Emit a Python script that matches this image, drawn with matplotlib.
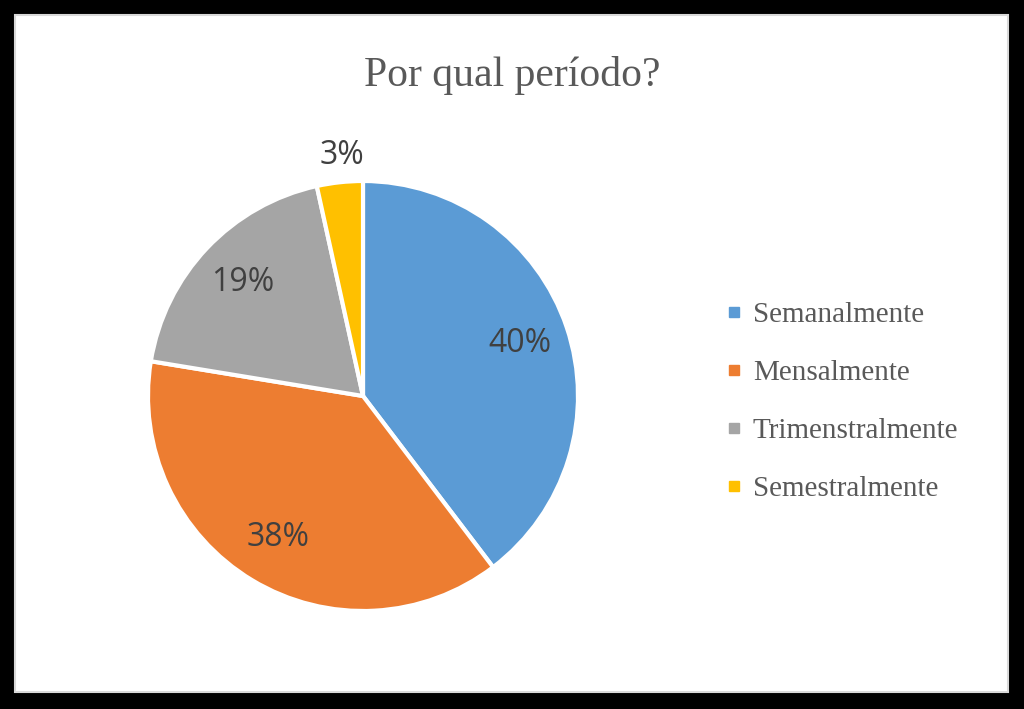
import matplotlib.pyplot as plt
from matplotlib.patches import Rectangle
from matplotlib.lines import Line2D

# dados
categorias = ['Semanalmente', 'Mensalmente', 'Trimenstralmente', 'Semestralmente']
respostas = [23, 22, 11, 2]
cores = ['#5B9BD5', '#ED7D31', '#A5A5A5', '#FFC000']
titulo = 'Por qual período?'

fig = plt.figure(figsize=(10.24, 7.09), dpi=100, facecolor='black')
fig.patches.append(Rectangle((15 / 1024, 17 / 709), 993 / 1024, 677 / 709,
                             transform=fig.transFigure, facecolor='white',
                             edgecolor='#D9D9D9', linewidth=1.5, zorder=-5))

ax = fig.add_axes([148 / 1024, 98 / 709, 430 / 1024, 430 / 709])
ax.set_facecolor('none')
wedges, textos, pct = ax.pie(respostas, colors=cores, startangle=90, counterclock=False,
                             autopct='%.0f%%', pctdistance=0.77,
                             wedgeprops=dict(edgecolor='white', linewidth=3),
                             textprops=dict(fontsize=23, color='#404040', family='Open Sans'))
# rótulo do menor setor fica fora
pct[3].set_position((-0.1, 1.12))
ax.set_xlim(-1, 1)
ax.set_ylim(-1, 1)
ax.set_aspect('equal')

fig.text(0.5, 0.893, titulo, ha='center', va='center', fontsize=30,
         family='Liberation Serif', color='#595959')

handles = [Line2D([], [], marker='s', linestyle='', markersize=7, color=c) for c in cores]
fig.legend(handles, categorias, loc='center left', bbox_to_anchor=(0.684, 0.433),
           frameon=False, handlelength=0.5, handletextpad=0.4,
           labelspacing=1.08, labelcolor='#595959',
           prop=dict(family='Liberation Serif', size=21))

fig.savefig('out.png', dpi=100, facecolor='black')
